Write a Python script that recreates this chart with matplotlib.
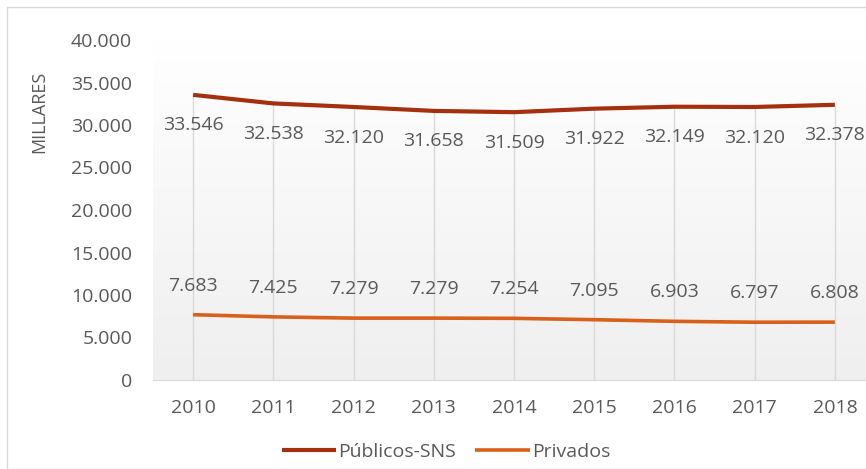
import matplotlib.pyplot as plt
import numpy as np
from matplotlib.patches import Rectangle

years = ['2010', '2011', '2012', '2013', '2014', '2015', '2016', '2017', '2018']
publicos = [33546, 32538, 32120, 31658, 31509, 31922, 32149, 32120, 32378]
privados = [7683, 7425, 7279, 7279, 7254, 7095, 6903, 6797, 6808]

plt.rcParams['font.family'] = ['Open Sans', 'DejaVu Sans']
txt = '#595959'
c_pub = '#A5300F'
c_priv = '#D9601A'

fig = plt.figure(figsize=(8.66, 4.69), dpi=100)
fig.patches.append(Rectangle((7 / 866, 0), 1, 1 - 7 / 469, transform=fig.transFigure,
                             fill=False, edgecolor='#d9d9d9', linewidth=1))
ax = fig.add_axes([153 / 866, 1 - 380 / 469, 722 / 866, 340 / 469])

x = np.arange(len(years))

# gradient background
grad = np.linspace(0, 1, 256).reshape(-1, 1)
ax.imshow(grad, extent=(-0.5, len(years) - 0.5, 0, 40000), aspect='auto',
          cmap=plt.matplotlib.colors.LinearSegmentedColormap.from_list('g', ['#ffffff', '#efefef']),
          origin='upper', zorder=0, vmin=0, vmax=1)
ax.set_xlim(-0.5, len(years) - 0.5)
ax.set_ylim(0, 40000)

# drop lines
ax.vlines(x, 0, publicos, color='#d9d9d9', linewidth=1, zorder=1)

ax.plot(x, publicos, color=c_pub, linewidth=3, label='Públicos-SNS', zorder=3,
        solid_capstyle='butt')
ax.plot(x, privados, color=c_priv, linewidth=2.6, label='Privados', zorder=3,
        solid_capstyle='butt')

for xi, v in zip(x, publicos):
    ax.annotate(f'{v:,}'.replace(',', '.'), (xi, v), xytext=(0, -22), textcoords='offset points',
                ha='center', va='center', fontsize=14, color=txt)
for xi, v in zip(x, privados):
    ax.annotate(f'{v:,}'.replace(',', '.'), (xi, v), xytext=(0, 21), textcoords='offset points',
                ha='center', va='center', fontsize=14, color=txt)

ax.set_xticks(x)
ax.set_xticklabels(years)
yt = np.arange(0, 40001, 5000)
ax.set_yticks(yt)
ax.set_yticklabels(['0' if v == 0 else f'{v:,}'.replace(',', '.') for v in yt])
ax.tick_params(length=0, labelsize=14, colors=txt)
ax.tick_params(axis='x', pad=14)
ax.tick_params(axis='y', pad=15)
for s in ['top', 'right', 'left']:
    ax.spines[s].set_visible(False)
ax.spines['bottom'].set_color('#d9d9d9')
ax.set_ylabel('MILLARES', fontsize=13, color=txt)
ax.yaxis.set_label_coords(-0.145, 0.79)

fig.legend(loc='center', bbox_to_anchor=(446 / 866, 1 - 452 / 469), ncol=2, frameon=False,
           fontsize=14, labelcolor=txt, handlelength=2.8, handletextpad=0.1, columnspacing=1.0)

fig.savefig('out.png', dpi=100)
